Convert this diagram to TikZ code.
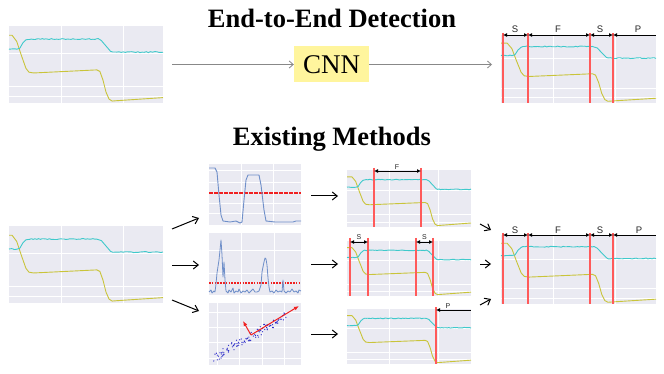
\documentclass[tikz,border=0pt]{standalone}
\usepackage{fontspec}
\setmainfont{Liberation Serif}
\newfontfamily\lsans{Liberation Sans}
\usetikzlibrary{arrows.meta}
\definecolor{bgplot}{HTML}{EAEAF2}
\definecolor{sigcyan}{HTML}{3FC9CB}
\definecolor{sigyellow}{HTML}{C9C43A}
\definecolor{sigblue}{HTML}{6F8FC9}
\definecolor{dotblue}{HTML}{2A2AC8}
\definecolor{segred}{HTML}{FF5A5A}
\definecolor{thrred}{HTML}{F02020}
\definecolor{cnnyellow}{HTML}{FFF59D}
\definecolor{arrowgray}{HTML}{888888}

\newcommand\sigpair[6]{%
\begin{scope}[shift={(#1,#2)},xscale=#3,yscale=#4]
\foreach \gv in {0.34,0.74} {\draw[gridline] (\gv,0) -- (\gv,1);}
\foreach \gv in {0.35,0.78,0.92} {\draw[gridline] (0,\gv) -- (1,\gv);}
\draw[yellowcurve] (0,0.12) -- ({#5-0.06},0.12) -- ({#5-0.03},0.20) -- (#5,0.38) -- ({#5+0.03},0.55) -- ({#5+0.05},0.60) -- ({#5+0.08},0.61) -- ({#6-0.01},0.57) -- ({#6+0.01},0.59) -- ({#6+0.03},0.70) -- ({#6+0.05},0.86) -- ({#6+0.07},0.95) -- ({#6+0.09},0.975) -- ({#6+0.12},0.97) -- (1,0.93);
\draw[cyancurve] (0,0.30) \foreach \k in {1,...,6}{ -- ({(#5-0.03)*\k/6},{0.30+0.006*rand})} -- ({#5-0.01},0.29) -- ({#5+0.01},0.22) -- ({#5+0.03},0.18) \foreach \k in {1,...,40}{ -- ({#5+0.03+(#6-#5-0.03)*\k/40},{0.17+0.007*rand})} -- ({#6+0.02},0.19) -- ({#6+0.05},0.26) -- ({#6+0.08},0.33) \foreach \k in {1,...,25}{ -- ({#6+0.08+(0.92-#6)*\k/25},{0.34+0.007*rand})};
\end{scope}}

\begin{document}
\begin{tikzpicture}[x=1pt,y=-1pt,
  plotframe/.style={fill=bgplot,draw=none,inner sep=0pt,outer sep=0pt,anchor=north west},
  gridline/.style={white,line width=0.7pt},
  cyancurve/.style={sigcyan,line width=0.9pt,line join=round},
  yellowcurve/.style={sigyellow,line width=0.9pt,line join=round},
  bluecurve/.style={sigblue,line width=0.9pt,line join=round},
  segline/.style={segred,line width=1.6pt},
  bracket/.style={black,line width=0.9pt,{Latex[length=4pt,width=4pt]}-{Latex[length=4pt,width=4pt]}},
  bracketr/.style={black,line width=0.9pt,{Latex[length=4pt,width=4pt]}-},
  seglabel/.style={font=\lsans\fontsize{9.5}{10}\selectfont,text=black!85,inner sep=0pt,anchor=base},
  smalllabel/.style={font=\lsans\fontsize{7}{8}\selectfont,text=black!85,inner sep=0pt,anchor=base},
  grayarrow/.style={arrowgray,line width=0.8pt,-{Straight Barb[length=4pt,width=7pt]}},
  blackarrow/.style={black,line width=1pt,-{Straight Barb[length=5pt,width=8pt]}},
  redvec/.style={draw=thrred,line width=1pt,-{Latex[length=5pt,width=4pt]}},
  thrline/.style={draw=thrred,line width=1.2pt},
  titletext/.style={font=\fontsize{26.5}{30}\selectfont\bfseries,inner sep=0pt,anchor=base},
  cnnbox/.style={fill=cnnyellow,draw=none,minimum width=75pt,minimum height=36pt,inner sep=0pt,font=\fontsize{27}{30}\selectfont}]
\useasboundingbox (0,0) rectangle (664,374);
\fill[white] (0,0) rectangle (664,374);
\pgfmathsetseed{11}

% titles
\node[titletext] (t1) at (332,28) {End-to-End Detection};
\node[titletext] (t2) at (332,145.5) {Existing Methods};

% ---------- top row ----------
\node[plotframe,minimum width=154pt,minimum height=77pt] (tl) at (9,26) {};
\sigpair{9}{26}{154}{77}{0.08}{0.58}
\node[cnnbox] (cnn) at (331.5,64.5) {CNN};
\node[plotframe,minimum width=155pt,minimum height=68pt] (tr) at (501,35) {};
\sigpair{501}{35}{155}{68}{0.10}{0.60}
\foreach \xx in {503,528,590,613} {\draw[segline] (\xx,33) -- (\xx,103);}
\draw[bracket] (503,35) -- (528,35);
\draw[bracket] (528,35) -- (590,35);
\draw[bracket] (590,35) -- (613,35);
\draw[bracketr] (613,35) -- (656,35);
\node[seglabel] (ls1) at (515,33) {S};
\node[seglabel] (lf1) at (558,33) {F};
\node[seglabel] (ls2) at (600,33) {S};
\node[seglabel] (lp1) at (638,33) {P};

\coordinate (a0s) at (172,64.5);
\coordinate (a1e) at (492,64.5);
\draw[grayarrow] (a0s) -- (cnn.west);
\draw[grayarrow] (cnn.east) -- (a1e);

% ---------- bottom row: input ----------
\node[plotframe,minimum width=154pt,minimum height=77pt] (in) at (9,226) {};
\sigpair{9}{226}{154}{77}{0.08}{0.58}

% ---------- middle column ----------
\node[plotframe,minimum width=92pt,minimum height=61pt] (ma) at (209,164) {};
\foreach \gv in {241,273} {\draw[gridline] (\gv,164) -- (\gv,225);}
\foreach \gv in {170,182,203,213} {\draw[gridline] (209,\gv) -- (301,\gv);}
\draw[thrline,dash pattern=on 3.5pt off 1.5pt] (209,193) -- (301,193);
\draw[bluecurve] (209,168) -- (215,168) -- (217,172) -- (219,195) -- (221,215) -- (223,221) -- (230,222) -- (236,221) -- (240,223) -- (242,222) -- (244,200) -- (246,180) -- (248,175) -- (255,175) -- (259,175) -- (261,185) -- (264,210) -- (266,221) -- (275,222) -- (285,222) -- (293,222) -- (296,221) -- (301,221);

\node[plotframe,minimum width=92pt,minimum height=62pt] (mb) at (209,233) {};
\foreach \gv in {241,274} {\draw[gridline] (\gv,233) -- (\gv,295);}
\foreach \gv in {250,273} {\draw[gridline] (209,\gv) -- (301,\gv);}
\draw[thrline,line width=2pt,dash pattern=on 1.6pt off 1.2pt] (209,283) -- (301,283);
\draw[bluecurve,line width=0.8pt] (209,292)--(211,290)--(212,293)--(214,291)--(215,292)--(216,284)--(217,273)--(219,260)--(220,250)--(221,240)--(222,255)--(223,277)--(224,262)--(225,280)--(226,291)--(228,293)--(229,290)--(231,292)--(233,288)--(234,293)--(236,291)--(238,292)--(239,289)--(241,293)--(243,291)--(245,292)--(247,290)--(249,293)--(251,291)--(253,289)--(255,292)--(257,292)--(259,291)--(261,285)--(262,272)--(264,262)--(265,258)--(266,259)--(267,265)--(268,278)--(269,287)--(270,292)--(272,291)--(274,293)--(276,290)--(278,292)--(280,291)--(282,292)--(283,280)--(284,291)--(286,293)--(288,291)--(290,292)--(292,289)--(294,292)--(296,291)--(298,293)--(299,290)--(301,291);

\node[plotframe,minimum width=92pt,minimum height=62pt] (mc) at (209,303) {};
\foreach \gv in {217,239,262,284} {\draw[gridline] (\gv,303) -- (\gv,365);}
\foreach \gv in {312,327,342,358} {\draw[gridline] (209,\gv) -- (301,\gv);}
\foreach \i in {0,...,109} {
  \pgfmathsetmacro\tt{\i/109}
  \pgfmathsetmacro\px{215+70*\tt+3*rand}
  \pgfmathsetmacro\py{358-42*\tt+4*rand}
  \fill[dotblue] (\px,\py) circle (0.65pt);
}
\coordinate (pc0) at (251,335);
\coordinate (pc1) at (299,306);
\coordinate (pc2) at (243,321);
\draw[redvec] (pc0) -- (pc1);
\draw[redvec] (pc0) -- (pc2);

% arrows input -> middle
\coordinate (b1s) at (172,229); \coordinate (b1e) at (199,218);
\coordinate (b2s) at (172,265); \coordinate (b2e) at (199,265);
\coordinate (b3s) at (172,300); \coordinate (b3e) at (199,311);
\draw[blackarrow] (b1s) -- (b1e);
\draw[blackarrow] (b2s) -- (b2e);
\draw[blackarrow] (b3s) -- (b3e);

% ---------- third column ----------
\node[plotframe,minimum width=124pt,minimum height=57pt] (ra) at (347,170) {};
\sigpair{347}{170}{124}{57}{0.10}{0.64}
\foreach \xx in {374,421} {\draw[segline] (\xx,168) -- (\xx,227);}
\draw[bracket] (374,171) -- (421,171);
\node[smalllabel] (lfa) at (397,169.5) {F};

\node[plotframe,minimum width=124pt,minimum height=55pt] (rb) at (347,241) {};
\sigpair{347}{241}{124}{55}{0.10}{0.64}
\foreach \xx in {350,368,416,433} {\draw[segline] (\xx,238) -- (\xx,296);}
\draw[bracket] (350,242) -- (368,242);
\draw[bracket] (416,242) -- (433,242);
\node[smalllabel] (lsb1) at (359,240) {S};
\node[smalllabel] (lsb2) at (424.5,240) {S};

\node[plotframe,minimum width=124pt,minimum height=55pt] (rc) at (347,309) {};
\sigpair{347}{309}{124}{55}{0.10}{0.64}
\draw[segline] (436,307) -- (436,364);
\draw[bracketr] (436,310) -- (471,310);
\node[smalllabel] (lpc) at (448,308.5) {P};

% arrows middle -> third
\coordinate (c1s) at (311,196); \coordinate (c1e) at (338,196);
\coordinate (c2s) at (311,264); \coordinate (c2e) at (338,264);
\coordinate (c3s) at (311,334); \coordinate (c3e) at (338,334);
\draw[blackarrow] (c1s) -- (c1e);
\draw[blackarrow] (c2s) -- (c2e);
\draw[blackarrow] (c3s) -- (c3e);

% ---------- output ----------
\node[plotframe,minimum width=155pt,minimum height=69pt] (out) at (501,235) {};
\sigpair{501}{235}{155}{69}{0.10}{0.60}
\foreach \xx in {503,528,590,613} {\draw[segline] (\xx,233) -- (\xx,304);}
\draw[bracket] (503,235) -- (528,235);
\draw[bracket] (528,235) -- (590,235);
\draw[bracket] (590,235) -- (613,235);
\draw[bracketr] (613,235) -- (656,235);
\node[seglabel] (ls3) at (515,233.5) {S};
\node[seglabel] (lf3) at (558,233.5) {F};
\node[seglabel] (ls4) at (600,233.5) {S};
\node[seglabel] (lp3) at (639,233.5) {P};

% arrows third -> output
\coordinate (d1s) at (480,224); \coordinate (d1e) at (491,230);
\coordinate (d2s) at (480,264); \coordinate (d2e) at (491,264);
\coordinate (d3s) at (480,305); \coordinate (d3e) at (491,299);
\draw[blackarrow] (d1s) -- (d1e);
\draw[blackarrow] (d2s) -- (d2e);
\draw[blackarrow] (d3s) -- (d3e);
\end{tikzpicture}
\end{document}
